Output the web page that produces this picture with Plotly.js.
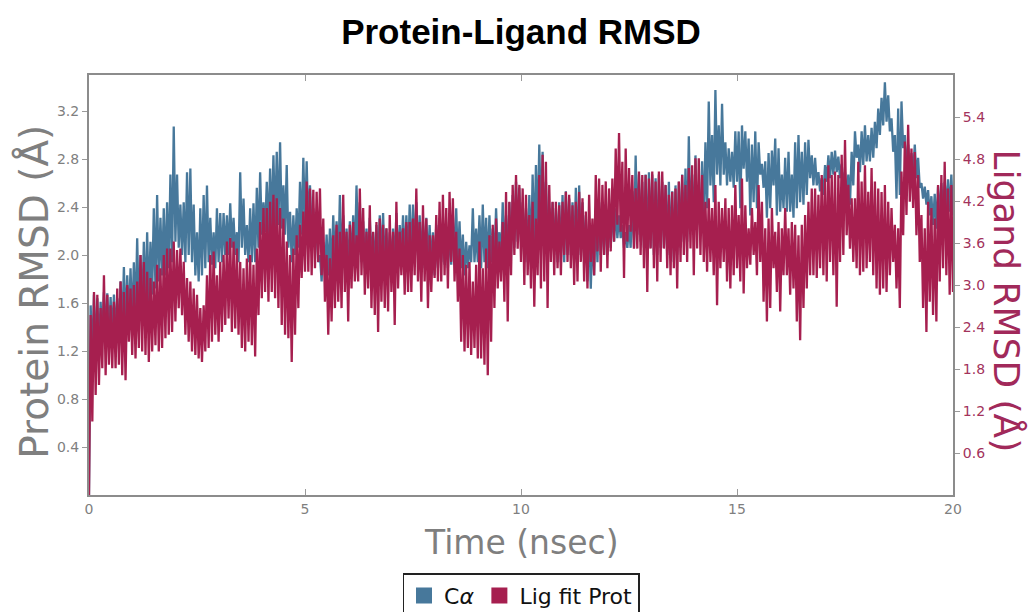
<!DOCTYPE html>
<html>
<head>
<meta charset="utf-8">
<script src="https://cdn.plot.ly/plotly-3.0.1.min.js"></script>
<style>html,body{margin:0;padding:0;background:#fff;}#chart{width:1033px;height:612px;}</style>
</head>
<body>
<div id="chart"></div>
<script>
// Simulation length (ns) and frame values
const simLength = 20;

// C-alpha RMSD (Å), left axis
const caRmsd = [0,
1.58,1.11, 1.67,1.17, 1.64,1.22, 1.61,1.28, 1.69,1.31, 1.68,1.33, 1.65,1.31, 1.67,1.33, 1.64,1.31, 1.78,1.36,
1.90,1.39, 1.83,1.44, 1.89,1.42, 1.94,1.47, 2.14,1.50, 2.00,1.50, 2.11,1.58, 2.19,1.61, 2.11,1.67, 2.39,1.72,
2.50,1.78, 2.31,1.83, 2.39,1.83, 2.44,1.89, 2.67,1.94, 3.07,2.11, 2.67,2.06, 2.42,2.00, 2.44,1.94, 2.69,2.00,
2.72,1.94, 2.42,1.83, 2.19,1.78, 2.39,1.83, 2.50,1.89, 2.58,1.94, 2.31,1.92, 2.19,1.89, 2.39,1.94, 2.35,1.94,
2.35,2.00, 2.33,2.00, 2.43,2.06, 2.31,2.00, 2.19,1.94, 2.69,2.06, 2.47,2.00, 2.25,1.94, 2.39,1.94, 2.43,1.94,
2.56,2.06, 2.69,2.17, 2.44,2.19, 2.61,2.17, 2.72,2.22, 2.83,2.22, 2.86,2.25, 2.94,2.22, 2.58,2.17, 2.75,2.06,
2.36,1.94, 2.33,2.00, 2.39,2.06, 2.61,2.17, 2.81,2.22,
2.78,2.22, 2.58,2.19, 2.39,2.11, 2.19,1.94, 2.00,1.78, 2.11,1.83, 2.17,1.83, 2.22,1.83, 2.33,1.94, 2.28,1.89,
2.50,1.94, 2.33,1.89, 2.22,1.83, 2.28,1.89, 2.33,1.94, 2.58,2.00, 2.44,1.94, 2.28,1.89, 2.22,1.89, 2.31,1.94,
2.19,1.89, 2.25,1.94, 2.33,1.94, 2.35,1.89, 2.22,1.89, 2.19,1.89, 2.22,1.89, 2.35,1.94, 2.25,2.00, 2.33,1.94,
2.33,1.94, 2.42,1.94, 2.42,2.00, 2.44,2.00, 2.33,1.94, 2.28,1.89, 2.31,1.94, 2.25,1.89, 2.19,1.83, 2.25,1.89,
2.31,1.94, 2.25,1.92, 2.22,1.89, 2.22,1.92, 2.33,1.94, 2.39,1.94, 2.28,1.89, 2.17,1.83, 2.11,1.89, 2.08,1.94,
2.39,1.94, 2.22,1.94, 2.33,1.89, 2.42,1.94, 2.31,1.89, 2.33,1.94, 2.22,1.94, 2.39,2.00, 2.19,1.94, 2.44,2.00,
2.33,1.94, 2.44,2.00, 2.50,2.06, 2.61,2.11, 2.56,2.11,
2.44,1.94, 2.39,1.94, 2.50,1.94, 2.67,2.06, 2.75,2.17, 2.92,2.28, 2.86,2.19, 2.61,2.17, 2.39,2.06, 2.44,2.00,
2.39,1.94, 2.44,1.94, 2.50,1.94, 2.53,2.00, 2.47,2.00, 2.44,1.94, 2.56,1.94, 2.58,2.00, 2.44,1.94, 2.33,1.78,
2.25,1.72, 2.22,1.83, 2.39,1.94, 2.44,2.00, 2.39,2.00, 2.42,2.00, 2.39,2.06, 2.44,2.11, 2.39,2.14, 2.33,2.14,
2.25,2.06, 2.19,2.06, 2.25,2.06, 2.53,2.06, 2.83,2.17, 2.67,2.11, 2.61,2.06, 2.67,2.00, 2.69,2.06, 2.67,2.00,
2.64,2.00, 2.67,2.06, 2.61,2.06, 2.58,2.00, 2.61,2.00, 2.53,1.94, 2.58,2.00, 2.61,2.06, 2.67,2.11, 2.72,2.11,
2.99,2.22, 2.67,2.17, 2.83,2.25, 2.58,2.17, 2.78,2.25, 2.94,2.39, 3.28,2.58, 3.00,2.44, 3.375,2.67, 3.08,2.58,
3.26,2.67, 2.94,2.58, 2.89,2.61, 2.86,2.56, 3.03,2.61,
3.03,2.39, 3.08,2.72, 3.03,2.61, 2.97,2.33, 2.92,2.44, 3.03,2.39, 2.94,2.67, 2.76,2.56, 2.78,2.31, 2.85,2.39,
2.87,2.58, 2.97,2.33, 2.89,2.36, 2.67,2.39, 2.81,2.36, 2.86,2.36, 2.67,2.31, 2.94,2.39, 3.00,2.44, 2.86,2.42,
2.94,2.50, 2.96,2.64, 2.83,2.58, 2.81,2.58, 2.69,2.53, 2.64,2.50, 2.75,2.61, 2.83,2.64, 2.86,2.67, 2.87,2.69,
2.82,2.64, 2.76,2.58, 2.69,2.47, 2.67,2.42, 2.86,2.58, 3.03,2.81, 2.92,2.69, 3.03,2.75, 3.08,2.78, 3.00,2.78,
3.06,2.81, 3.11,2.89, 3.22,3.00, 3.31,3.08, 3.44,3.11, 3.33,3.03, 3.14,2.86, 3.00,2.47, 3.22,2.50, 3.28,2.89,
3.00,2.69, 2.92,2.69, 2.85,2.67, 2.92,2.64, 2.81,2.56, 2.60,2.47, 2.57,2.42, 2.54,2.33, 2.49,2.25, 2.51,2.22,
2.57,2.31, 2.60,2.36, 2.61,2.39, 2.63,2.36, 2.67,2.33
];

// Ligand (fit on protein) RMSD (Å), right axis
const ligRmsd = [0,
2.57,1.05, 2.90,1.43, 2.86,1.57, 2.67,1.81, 3.14,1.71, 2.86,1.86, 2.71,1.81, 2.76,1.81, 2.95,1.86, 3.05,1.71,
2.90,1.64, 3.00,2.19, 2.95,2.00, 3.00,1.95, 3.05,2.10, 3.43,2.05, 3.33,2.00, 3.19,1.90, 3.10,2.05, 3.05,2.14,
3.29,2.05, 3.24,2.10, 3.43,2.24, 3.52,2.29, 3.52,2.33, 3.62,2.48, 3.50,2.67, 3.52,2.57, 3.33,2.29, 3.10,2.19,
3.05,2.05, 2.95,2.00, 2.86,1.95, 2.67,1.90, 2.71,2.05, 3.14,2.10, 3.43,2.19, 3.48,2.29, 3.14,2.19, 3.33,2.33,
3.43,2.43, 3.62,2.52, 3.67,2.33, 3.62,2.38, 3.52,2.29, 3.33,2.10, 3.24,2.05, 3.38,2.19, 3.43,2.14, 3.29,1.98,
3.52,2.57, 3.90,2.81, 4.10,2.90, 4.10,2.76, 4.19,2.90, 4.29,2.81, 4.24,2.67, 4.10,2.43, 3.95,2.29, 3.62,2.24,
3.43,1.90, 3.52,2.29, 3.71,2.67, 3.86,3.10, 4.05,3.19,
4.48,3.19, 4.38,3.14, 4.36,3.24, 4.33,3.33, 4.38,3.14, 3.95,2.76, 3.43,2.29, 3.38,2.48, 3.71,2.67, 3.86,2.76,
3.76,2.67, 4.29,2.90, 3.76,2.48, 3.86,2.95, 3.90,3.05, 3.71,3.05, 4.38,3.14, 4.10,2.86, 3.76,2.95, 4.14,2.67,
3.76,2.57, 3.90,2.33, 3.95,2.76, 3.86,2.67, 3.81,2.62, 4.00,2.90, 3.76,2.43, 4.19,2.95, 3.76,3.14, 3.81,2.86,
3.90,2.90, 3.90,2.90, 3.95,3.14, 4.38,3.05, 3.90,2.76, 4.14,3.05, 3.95,2.67, 3.71,2.90, 3.71,3.10, 4.00,3.05,
4.19,3.05, 4.29,3.14, 4.10,2.95, 4.33,3.33, 4.24,3.05, 3.76,2.76, 3.52,2.19, 3.43,2.05, 3.29,2.10, 3.33,2.00,
3.05,2.10, 3.29,1.95, 3.62,1.95, 3.24,1.86, 3.52,1.71, 3.71,2.19, 3.86,2.67, 3.95,2.95, 3.62,3.05, 3.90,2.76,
4.33,2.48, 4.19,3.14, 4.43,3.43, 4.57,3.52, 4.43,3.33,
4.38,3.00, 4.29,3.14, 4.00,2.95, 4.19,2.69, 3.95,3.14, 4.57,2.95, 4.86,3.05, 4.76,2.67, 4.43,3.33, 4.19,3.14,
4.19,3.24, 4.14,3.14, 4.19,3.43, 4.33,3.33, 4.29,3.24, 4.14,3.00, 4.19,3.05, 4.33,3.33, 4.24,3.05, 4.05,2.95,
4.29,3.33, 3.95,3.14, 4.57,3.48, 4.52,3.19, 4.43,3.43, 4.48,3.24, 4.38,3.48, 4.52,3.62, 4.95,3.86, 5.17,3.76,
4.76,3.10, 4.95,3.62, 4.67,3.76, 4.57,3.52, 4.38,3.52, 4.62,3.43, 4.57,3.24, 4.57,2.90, 4.52,3.52, 4.62,3.24,
4.48,3.05, 4.62,3.33, 4.62,3.52, 4.43,3.24, 4.29,3.14, 4.33,3.24, 4.38,2.95, 4.48,3.33, 4.57,3.43, 4.43,3.33,
4.67,3.52, 4.71,3.14, 4.81,3.52, 4.81,3.43, 4.57,3.33, 4.19,3.19, 4.24,3.33, 4.10,3.14, 4.43,2.71, 4.19,3.24,
4.10,3.33, 4.24,3.05, 4.10,2.95, 4.14,3.14, 4.43,3.24,
4.00,3.05, 4.52,2.88, 4.14,3.24, 3.81,3.29, 4.10,3.43, 3.90,3.14, 4.43,3.33, 4.19,2.76, 3.81,2.48, 3.95,2.67,
4.10,3.24, 3.76,2.90, 3.90,2.62, 3.81,3.14, 4.10,3.14, 3.81,2.86, 3.90,2.95, 3.86,2.48, 3.71,2.21, 3.86,2.67,
4.00,2.95, 4.19,3.14, 4.38,3.14, 4.38,3.10, 4.29,3.24, 4.57,3.14, 4.52,3.05, 4.71,3.33, 4.57,3.14, 4.62,2.69,
4.57,3.33, 4.86,3.43, 5.07,3.71, 4.43,3.52, 4.24,3.33, 4.24,3.24, 4.76,3.14, 4.48,3.19, 4.71,3.24, 4.33,3.33,
4.67,3.14, 4.48,2.95, 4.38,2.86, 4.33,2.95, 4.43,2.90, 4.19,3.14, 4.10,3.33, 3.86,2.95, 3.81,2.67, 4.62,3.71,
5.05,4.00, 5.29,4.19, 4.95,4.10, 4.90,3.71, 4.57,3.33, 4.00,2.67, 3.81,2.33, 4.19,2.76, 4.10,2.57, 3.95,2.48,
4.43,3.05, 4.57,3.24, 4.76,3.14, 4.38,2.86, 4.43,2.90
];

const timeTicks = [0, 5, 10, 15, 20];
const proteinTicks = [0.4, 0.8, 1.2, 1.6, 2.0, 2.4, 2.8, 3.2];
const proteinTickText = ["0.4", "0.8", "1.2", "1.6", "2.0", "2.4", "2.8", "3.2"];
const ligandTicks = [0.6, 1.2, 1.8, 2.4, 3.0, 3.6, 4.2, 4.8, 5.4];
const ligandTickText = ["0.6", "1.2", "1.8", "2.4", "3.0", "3.6", "4.2", "4.8", "5.4"];
const seriesNames = ["C<i>α</i>", "Lig fit Prot"];

const frameTime = (arr) => arr.map((_, i) => i * simLength / (arr.length - 1));

const blue = "#47789b";
const crimson = "#a61f4f";
const gray = "#7f7f7f";
const frame = "#8c8c8c";
const fontMain = "DejaVu Sans, Liberation Sans, sans-serif";

const traces = [
  {x: frameTime(caRmsd), y: caRmsd, type: "scatter", mode: "lines",
   line: {color: blue, width: 2.3}, yaxis: "y", showlegend: false, hoverinfo: "skip"},
  {x: frameTime(ligRmsd), y: ligRmsd, type: "scatter", mode: "lines",
   line: {color: crimson, width: 2.3}, yaxis: "y2", showlegend: false, hoverinfo: "skip"},
  {x: [null], y: [null], type: "scatter", mode: "markers", name: seriesNames[0],
   marker: {symbol: "square", size: 22, color: blue}, showlegend: true},
  {x: [null], y: [null], type: "scatter", mode: "markers", name: seriesNames[1],
   marker: {symbol: "square", size: 22, color: crimson}, showlegend: true, yaxis: "y2"}
];

const layout = {
  width: 1033, height: 612,
  margin: {l: 89, r: 80, t: 75, b: 117, pad: 0, autoexpand: false},
  paper_bgcolor: "#ffffff", plot_bgcolor: "#ffffff",
  title: {text: "<b>Protein-Ligand RMSD</b>", x: 0.5, xref: "paper", xanchor: "center",
          y: 0.948, yref: "container", yanchor: "middle", automargin: false,
          font: {family: "Liberation Sans, Arial, sans-serif", size: 35, color: "#000"}},
  xaxis: {range: [0, 20], tickvals: timeTicks, ticktext: timeTicks.map(String),
          ticks: "inside", ticklen: 6, tickwidth: 1, tickcolor: "#9a9a9a",
          showline: true, linecolor: frame, linewidth: 2, mirror: "ticks",
          showgrid: false, zeroline: false, automargin: false,
          tickfont: {family: fontMain, size: 14, color: gray}},
  yaxis: {range: [0, 3.5], tickvals: proteinTicks, ticktext: proteinTickText,
          ticks: "outside", ticklen: 5, tickwidth: 1, tickcolor: "#9a9a9a",
          showline: true, linecolor: frame, linewidth: 2,
          showgrid: false, zeroline: false, automargin: false,
          tickfont: {family: fontMain, size: 14, color: gray}},
  yaxis3: {range: [0, 3.5], overlaying: "y", side: "left", tickvals: proteinTicks,
           ticks: "inside", ticklen: 5, tickwidth: 1, tickcolor: "#9a9a9a",
           showticklabels: false, showline: false, showgrid: false, zeroline: false},
  yaxis2: {range: [0, 6], overlaying: "y", side: "right", tickvals: ligandTicks, ticktext: ligandTickText,
           ticks: "outside", ticklen: 5, tickwidth: 1, tickcolor: "#9a9a9a",
           showline: true, linecolor: frame, linewidth: 2,
           showgrid: false, zeroline: false, automargin: false,
           tickfont: {family: fontMain, size: 14, color: "#a3335c"}},
  yaxis4: {range: [0, 6], overlaying: "y", side: "right", tickvals: ligandTicks,
           ticks: "inside", ticklen: 5, tickwidth: 1, tickcolor: "#9a9a9a",
           showticklabels: false, showline: false, showgrid: false, zeroline: false},
  legend: {orientation: "h", x: 0.5, xanchor: "center", y: -0.186, yanchor: "top",
           bordercolor: "#222", borderwidth: 1.5, bgcolor: "#fff",
           font: {family: fontMain, size: 22, color: "#111"}, itemwidth: 30, tracegroupgap: 0},
  annotations: [
    {text: "Time (nsec)", xref: "paper", yref: "paper", x: 0.5, y: -0.114,
     xanchor: "center", yanchor: "middle", showarrow: false,
     font: {family: fontMain, size: 33, color: gray}},
    {text: "Protein RMSD (Å)", xref: "paper", yref: "paper", x: -0.064, y: 0.483,
     xanchor: "center", yanchor: "middle", textangle: -90, showarrow: false,
     font: {family: fontMain, size: 39, color: gray}},
    {text: "Ligand RMSD (Å)", xref: "paper", yref: "paper", x: 1.062, y: 0.462,
     xanchor: "center", yanchor: "middle", textangle: 90, showarrow: false,
     font: {family: fontMain, size: 36, color: "#a1295a"}}
  ]
};

Plotly.newPlot("chart", traces, layout, {staticPlot: true, displayModeBar: false});
</script>
</body>
</html>
